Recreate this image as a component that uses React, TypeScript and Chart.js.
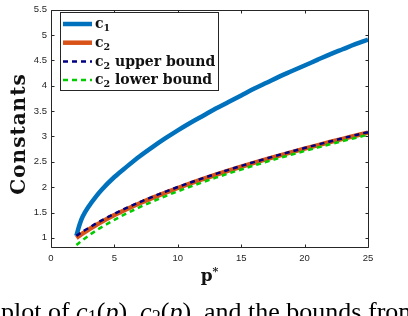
import React, { useEffect, useRef } from "react";
import { Chart, registerables } from "chart.js";

Chart.register(...registerables);

// ---- data ----
const pValues = [2, 2.25, 2.5, 3, 3.5, 4, 5, 6, 7, 8, 9, 10, 11, 12, 13, 14, 15, 16, 17, 18, 19, 20, 21, 22, 23, 24, 25];
const c1Values = [1.04, 1.26, 1.42, 1.63, 1.8, 1.95, 2.2, 2.41, 2.61, 2.79, 2.96, 3.12, 3.27, 3.41, 3.55, 3.68, 3.81, 3.94, 4.06, 4.18, 4.29, 4.4, 4.51, 4.62, 4.72, 4.82, 4.91];
const c2Values = [1.0, 1.045, 1.088, 1.169, 1.244, 1.316, 1.449, 1.57, 1.683, 1.79, 1.889, 1.984, 2.075, 2.161, 2.245, 2.325, 2.403, 2.479, 2.552, 2.623, 2.692, 2.759, 2.825, 2.89, 2.953, 3.014, 3.075];
const upperValues = [1.04, 1.083, 1.125, 1.2, 1.275, 1.345, 1.475, 1.595, 1.705, 1.81, 1.908, 2.003, 2.092, 2.178, 2.261, 2.341, 2.418, 2.493, 2.565, 2.636, 2.705, 2.772, 2.837, 2.901, 2.964, 3.025, 3.085];
const lowerValues = [0.858, 0.91, 0.959, 1.051, 1.135, 1.213, 1.356, 1.486, 1.605, 1.716, 1.82, 1.918, 2.012, 2.101, 2.187, 2.269, 2.349, 2.426, 2.501, 2.573, 2.644, 2.713, 2.78, 2.845, 2.909, 2.971, 3.033];
const seriesNames = ["c1", "c2", "c2 upper bound", "c2 lower bound"];
const xTicks = [0, 5, 10, 15, 20, 25];
const yTicks = [1, 1.5, 2, 2.5, 3, 3.5, 4, 4.5, 5, 5.5];
const xTitle = "p";
const xTitleSup = "*";
const yTitle = "Constants";

// ---- styles ----
const seriesStyles = [
  { color: "#0072BD", width: 4.5, dash: [] as number[] },
  { color: "#D95319", width: 4.5, dash: [] as number[] },
  { color: "#000080", width: 2.5, dash: [5, 4] },
  { color: "#00CC00", width: 2.5, dash: [5, 4] },
];
const AXIS_COLOR = "#262626";
const SERIF = '"DejaVu Serif", serif';

const toPoints = (ys: number[]) => pValues.map((x, i) => ({ x, y: ys[i] }));

const frame = {
  id: "frame",
  afterDatasetsDraw(chart: any) {
    const { ctx, chartArea: a, scales } = chart;
    const L = Math.round(a.left) + 0.5;
    const R = Math.round(a.right) + 0.5;
    const T = Math.round(a.top) + 0.5;
    const B = Math.round(a.bottom) + 0.5;
    ctx.save();
    ctx.strokeStyle = AXIS_COLOR;
    ctx.lineWidth = 1;
    ctx.setLineDash([]);
    ctx.beginPath();
    ctx.rect(L, T, R - L, B - T);
    const tl = 3;
    xTicks.forEach((v) => {
      const px = Math.round(scales.x.getPixelForValue(v)) + 0.5;
      ctx.moveTo(px, B);
      ctx.lineTo(px, B - tl);
      ctx.moveTo(px, T);
      ctx.lineTo(px, T + tl);
    });
    yTicks.forEach((v) => {
      const py = Math.round(scales.y.getPixelForValue(v)) + 0.5;
      ctx.moveTo(L, py);
      ctx.lineTo(L + tl, py);
      ctx.moveTo(R, py);
      ctx.lineTo(R - tl, py);
    });
    ctx.stroke();

    // legend
    const bx = 60.5, by = 12.5, bw = 158, bh = 78;
    ctx.fillStyle = "#ffffff";
    ctx.fillRect(bx, by, bw, bh);
    ctx.strokeRect(bx, by, bw, bh);
    const rowY = [24, 42.7, 61.5, 80];
    seriesNames.forEach((name, i) => {
      const st = seriesStyles[i];
      const y = rowY[i];
      ctx.save();
      ctx.strokeStyle = st.color;
      ctx.lineWidth = st.width;
      ctx.setLineDash(st.dash);
      ctx.beginPath();
      ctx.moveTo(63, y);
      ctx.lineTo(92, y);
      ctx.stroke();
      ctx.restore();
      ctx.fillStyle = "#111111";
      ctx.textBaseline = "alphabetic";
      ctx.textAlign = "left";
      let x = 95;
      ctx.font = `bold 14px ${SERIF}`;
      ctx.fillText(name[0], x, y + 4);
      x += ctx.measureText(name[0]).width;
      ctx.font = `bold 9.5px ${SERIF}`;
      ctx.fillText(name[1], x, y + 7);
      x += ctx.measureText(name[1]).width;
      const rest = name.slice(2);
      if (rest) {
        ctx.font = `bold 14px ${SERIF}`;
        ctx.fillText(rest, x, y + 4);
      }
    });

    // axis titles
    ctx.fillStyle = "#111111";
    ctx.save();
    ctx.translate(25, 134);
    ctx.rotate(-Math.PI / 2);
    ctx.font = `bold 20px ${SERIF}`;
    (ctx as any).letterSpacing = "1px";
    ctx.textAlign = "center";
    ctx.textBaseline = "alphabetic";
    ctx.fillText(yTitle, 0, 0);
    ctx.restore();

    ctx.font = `bold 17px ${SERIF}`;
    const pw = ctx.measureText(xTitle).width;
    ctx.font = `bold 11px ${SERIF}`;
    const sw = ctx.measureText(xTitleSup).width;
    const cx = (a.left + a.right) / 2;
    const sx = cx - (pw + sw) / 2;
    ctx.textAlign = "left";
    ctx.font = `bold 17px ${SERIF}`;
    ctx.fillText(xTitle, sx, 281);
    ctx.font = `bold 11px ${SERIF}`;
    ctx.fillText(xTitleSup, sx + pw, 275);
    ctx.restore();
  },
};

export default function App() {
  const ref = useRef<HTMLCanvasElement | null>(null);
  useEffect(() => {
    if (!ref.current) return;
    const datasets = [c1Values, c2Values, upperValues, lowerValues].map((vals, i) => ({
      label: seriesNames[i],
      data: toPoints(vals),
      borderColor: seriesStyles[i].color,
      borderWidth: seriesStyles[i].width,
      borderDash: seriesStyles[i].dash,
      pointRadius: 0,
      fill: false,
      cubicInterpolationMode: "monotone" as const,
      order: 4 - i,
    }));
    const tickFont = { family: '"Liberation Sans", Arial, sans-serif', size: 9.5 };
    const chart = new Chart(ref.current, {
      type: "line",
      data: { datasets },
      options: {
        animation: false,
        responsive: false,
        layout: { padding: { top: 5, right: 40, left: 0, bottom: 0 } },
        plugins: { legend: { display: false }, tooltip: { enabled: false } },
        scales: {
          x: {
            type: "linear",
            min: 0,
            max: 25,
            afterBuildTicks: (s: any) => {
              s.ticks = xTicks.map((v) => ({ value: v }));
            },
            afterFit: (s: any) => {
              s.height = 69;
            },
            ticks: {
              font: tickFont,
              color: AXIS_COLOR,
              padding: 6,
              maxRotation: 0,
              autoSkip: false,
              callback: (v: any) => String(v),
            },
            grid: { display: false, drawTicks: false },
            border: { display: false },
          },
          y: {
            type: "linear",
            min: 0.82,
            max: 5.5,
            afterBuildTicks: (s: any) => {
              s.ticks = yTicks.map((v) => ({ value: v }));
            },
            afterFit: (s: any) => {
              s.width = 51;
            },
            ticks: {
              font: tickFont,
              color: AXIS_COLOR,
              padding: 4,
              autoSkip: false,
              callback: (v: any) => String(v),
            },
            grid: { display: false, drawTicks: false },
            border: { display: false },
          },
        },
      },
      plugins: [frame],
    });
    return () => chart.destroy();
  }, []);

  return (
    <div
      style={{
        position: "fixed",
        left: 0,
        top: 0,
        width: 408,
        height: 316,
        overflow: "hidden",
        background: "#ffffff",
      }}
    >
      <canvas ref={ref} width={408} height={316} style={{ display: "block", width: 408, height: 316 }} />
      <div
        style={{
          position: "absolute",
          left: 1,
          top: 299,
          fontFamily: '"Liberation Serif", "Times New Roman", serif',
          fontSize: 26,
          lineHeight: "26px",
          whiteSpace: "nowrap",
          color: "#000000",
        }}
      >
        plot of <i>c</i>
        <sub style={{ fontSize: "0.7em", verticalAlign: "-0.15em" }}>1</sub>(<i>p</i>), <i>c</i>
        <sub style={{ fontSize: "0.7em", verticalAlign: "-0.15em" }}>2</sub>(<i>p</i>), and the bounds from
      </div>
    </div>
  );
}
